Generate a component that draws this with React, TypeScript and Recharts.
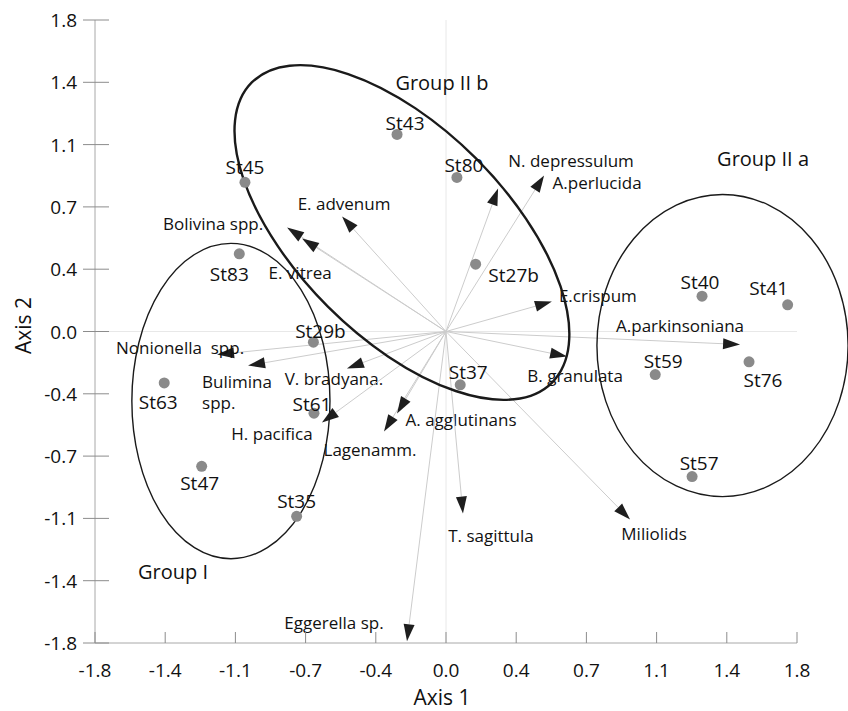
import React from 'react';
import { ScatterChart, Scatter, XAxis, YAxis, ReferenceLine, Label } from 'recharts';

// ---------- data (PCA biplot, Axis 1 / Axis 2) ----------
const stationNames = ['St43', 'St80', 'St45', 'St83', 'St27b', 'St29b', 'St63', 'St61', 'St37', 'St47', 'St35', 'St40', 'St41', 'St59', 'St76', 'St57'];
const stationAxis1 = [-0.251, 0.056, -1.031, -1.06, 0.152, -0.68, -1.445, -0.677, 0.073, -1.253, -0.766, 1.313, 1.752, 1.073, 1.554, 1.262];
const stationAxis2 = [1.139, 0.89, 0.862, 0.449, 0.389, -0.062, -0.297, -0.472, -0.308, -0.779, -1.068, 0.204, 0.154, -0.249, -0.175, -0.838];

const speciesNames = ['N. depressulum', 'A.perlucida', 'E. advenum', 'Bolivina spp.', 'E. vitrea', 'E.crispum', 'A.parkinsoniana', 'B. granulata', 'V. bradyana.', 'H. pacifica', 'Lagenamm.', 'A. agglutinans', 'Nonionella\u00A0 spp.', 'Bulimina spp.', 'T. sagittula', 'Miliolids', 'Eggerella sp.'];
const speciesAxis1 = [0.267, 0.503, -0.533, -0.815, -0.738, 0.543, 1.508, 0.621, -0.508, -0.636, -0.318, -0.251, -1.174, -1.015, 0.087, 0.944, -0.2];
const speciesAxis2 = [0.827, 0.902, 0.665, 0.601, 0.538, 0.173, -0.075, -0.145, -0.214, -0.526, -0.578, -0.474, -0.133, -0.197, -1.052, -1.087, -1.79];

const groupNames = ['Group I', 'Group II a', 'Group II b'];
const groupCenterAxis1 = [-1.103, 1.418, -0.226];
const groupCenterAxis2 = [-0.402, -0.081, 0.572];
const groupSemiAEndAxis1 = [-0.595, 0.774, 0.544];
const groupSemiAEndAxis2 = [-0.402, -0.081, -0.295];
const groupSemiBEndAxis1 = [-1.103, 1.418, 0.154];
const groupSemiBEndAxis2 = [0.509, 0.792, 1.0];
const groupLabelAxis1 = [-1.4, 1.626, -0.021];
const groupLabelAxis2 = [-1.387, 1.0, 1.439];

const axisTicks = [-1.8, -1.44, -1.08, -0.72, -0.36, 0, 0.36, 0.72, 1.08, 1.44, 1.8];

// ---------- layout / style ----------
const FONT = '"Open Sans", "Noto Sans", "DejaVu Sans", sans-serif';
const TEXT = '#111111';

const stationLabelOffset: Record<string, [number, number]> = {
  St43: [8, -11], St80: [7, -12], St45: [0, -15], St83: [-10, 20], St27b: [38, 11],
  St29b: [7, -11], St63: [-6, 19], St61: [-2, -9], St37: [8, -13], St47: [-2, 17],
  St35: [0, -15], St40: [-2, -14], St41: [-19, -17], St59: [8, -14], St76: [14, 18], St57: [7, -14],
};

const speciesLabelOffset: Record<string, [number, number]> = {
  'N. depressulum': [73, -28], 'A.perlucida': [53, 7], 'E. advenum': [2, -13],
  'Bolivina spp.': [-74, -4], 'E. vitrea': [-2, 34], 'E.crispum': [46, -6],
  'A.parkinsoniana': [-60, -19], 'B. granulata': [8, 19], 'V. bradyana.': [-13, 10],
  'H. pacifica': [-50, 11], 'Lagenamm.': [-14, 18], 'A. agglutinans': [64, 6],
  'Nonionella\u00A0 spp.': [-37, -7], 'T. sagittula': [28, 22], 'Miliolids': [24, 14],
  'Eggerella sp.': [-73, -19],
};

const groupStroke = [1.4, 1.4, 2.4];

const stations = stationNames.map((name, i) => ({ name, x: stationAxis1[i], y: stationAxis2[i] }));

const fmt = (v: number) => (Math.abs(v) < 1e-9 ? '0.0' : v.toFixed(1));

const XTick = (props: any) => {
  const { x, y, payload } = props;
  return (
    <g>
      <line x1={x} y1={y - 11} x2={x} y2={y} stroke="#8c8c8c" strokeWidth={1} />
      <text x={x} y={y + 27} textAnchor="middle" dominantBaseline="central" fontSize={19} fontFamily={FONT} fill={TEXT}>
        {fmt(payload.value)}
      </text>
    </g>
  );
};

const YTick = (props: any) => {
  const { x, y, payload } = props;
  return (
    <g>
      <line x1={x - 12} y1={y} x2={x + 14} y2={y} stroke="#8c8c8c" strokeWidth={1} />
      <text x={x - 18} y={y} textAnchor="end" dominantBaseline="central" fontSize={19} fontFamily={FONT} fill={TEXT}>
        {fmt(payload.value)}
      </text>
    </g>
  );
};

const XTitle = (props: any) => {
  const vb = props.viewBox || { x: 95, y: 643, width: 702, height: 60 };
  return (
    <text x={vb.x + vb.width / 2 - 4} y={vb.y + 62} textAnchor="middle" fontSize={21} fontFamily={FONT} fill={TEXT}>
      Axis 1
    </text>
  );
};

const YTitle = (props: any) => {
  const vb = props.viewBox || { x: 0, y: 20, width: 95, height: 623 };
  const cx = vb.x + 31;
  const cy = vb.y + vb.height / 2 - 6;
  return (
    <text x={cx} y={cy} transform={`rotate(-90 ${cx} ${cy})`} textAnchor="middle" fontSize={21} fontFamily={FONT} fill={TEXT}>
      Axis 2
    </text>
  );
};

const Hidden = () => <g />;

const makeArrow = (name: string) => (props: any) => {
  const pts = props.points;
  if (!pts || pts.length < 2) return <g />;
  const o = pts[0];
  const t = pts[1];
  const dx = t.x - o.x;
  const dy = t.y - o.y;
  const len = Math.hypot(dx, dy) || 1;
  const ux = dx / len;
  const uy = dy / len;
  const L = 17;
  const W = 5.5;
  const bx = t.x - ux * L;
  const by = t.y - uy * L;
  const poly = `${t.x},${t.y} ${bx - uy * W},${by + ux * W} ${bx + uy * W},${by - ux * W}`;
  let label: React.ReactNode;
  if (name === 'Bulimina spp.') {
    const lx = t.x - 46;
    label = (
      <text x={lx} y={t.y + 15} textAnchor="start" dominantBaseline="central" fontSize={17} fontFamily={FONT} fill={TEXT}>
        <tspan x={lx}>Bulimina</tspan>
        <tspan x={lx} dy={21}>spp.</tspan>
      </text>
    );
  } else {
    const off = speciesLabelOffset[name] || [0, -12];
    label = (
      <text x={t.x + off[0]} y={t.y + off[1]} textAnchor="middle" dominantBaseline="central" fontSize={17} fontFamily={FONT} fill={TEXT}>
        {name}
      </text>
    );
  }
  return (
    <g>
      <line x1={o.x} y1={o.y} x2={bx} y2={by} stroke="#cccccc" strokeWidth={1} />
      <polygon points={poly} fill="#1e1e1e" />
      {label}
    </g>
  );
};

const makeEllipse = (name: string, sw: number) => (props: any) => {
  const pts = props.points;
  if (!pts || pts.length < 4) return <g />;
  const [c, a, b, l] = pts;
  const rx = Math.hypot(a.x - c.x, a.y - c.y);
  const ry = Math.hypot(b.x - c.x, b.y - c.y);
  const ang = (Math.atan2(a.y - c.y, a.x - c.x) * 180) / Math.PI;
  return (
    <g>
      <ellipse cx={c.x} cy={c.y} rx={rx} ry={ry} transform={`rotate(${ang} ${c.x} ${c.y})`} fill="none" stroke="#1a1a1a" strokeWidth={sw} />
      <text x={l.x} y={l.y} textAnchor="middle" dominantBaseline="central" fontSize={20} fontFamily={FONT} fill={TEXT}>
        {name}
      </text>
    </g>
  );
};

const StationShape = (props: any) => {
  const { cx, cy, payload } = props;
  const off = stationLabelOffset[payload.name] || [0, -14];
  return (
    <g>
      <circle cx={cx} cy={cy} r={5.5} fill="#8a8a8a" />
      <text x={cx + off[0]} y={cy + off[1]} textAnchor="middle" dominantBaseline="central" fontSize={19} fontFamily={FONT} fill={TEXT}>
        {payload.name}
      </text>
    </g>
  );
};

export default function App() {
  return (
    <div style={{ position: 'absolute', left: 0, top: 0, background: '#fff' }}>
      <ScatterChart width={848} height={711} margin={{ top: 20, right: 51, bottom: 8, left: 0 }}>
        <XAxis
          type="number"
          dataKey="x"
          domain={[-1.8, 1.8]}
          ticks={axisTicks}
          interval={0}
          tick={<XTick />}
          tickLine={false}
          tickSize={0}
          tickMargin={0}
          axisLine={{ stroke: '#a8a8a8' }}
          height={60}
        >
          <Label content={XTitle} />
        </XAxis>
        <YAxis
          type="number"
          dataKey="y"
          domain={[-1.8, 1.8]}
          ticks={axisTicks}
          interval={0}
          tick={<YTick />}
          tickLine={false}
          tickSize={0}
          tickMargin={0}
          axisLine={{ stroke: '#a8a8a8' }}
          width={95}
        >
          <Label content={YTitle} />
        </YAxis>
        <ReferenceLine x={0} stroke="#e8e8e8" strokeWidth={1} />
        <ReferenceLine y={0} stroke="#e8e8e8" strokeWidth={1} />
        {speciesNames.map((name, i) => (
          <Scatter
            key={'sp-' + i}
            data={[{ x: 0, y: 0 }, { x: speciesAxis1[i], y: speciesAxis2[i] }]}
            line={makeArrow(name)}
            shape={Hidden}
            isAnimationActive={false}
          />
        ))}
        {groupNames.map((name, i) => (
          <Scatter
            key={'gr-' + i}
            data={[
              { x: groupCenterAxis1[i], y: groupCenterAxis2[i] },
              { x: groupSemiAEndAxis1[i], y: groupSemiAEndAxis2[i] },
              { x: groupSemiBEndAxis1[i], y: groupSemiBEndAxis2[i] },
              { x: groupLabelAxis1[i], y: groupLabelAxis2[i] },
            ]}
            line={makeEllipse(name, groupStroke[i])}
            shape={Hidden}
            isAnimationActive={false}
          />
        ))}
        <Scatter data={stations} shape={StationShape} isAnimationActive={false} />
      </ScatterChart>
    </div>
  );
}
